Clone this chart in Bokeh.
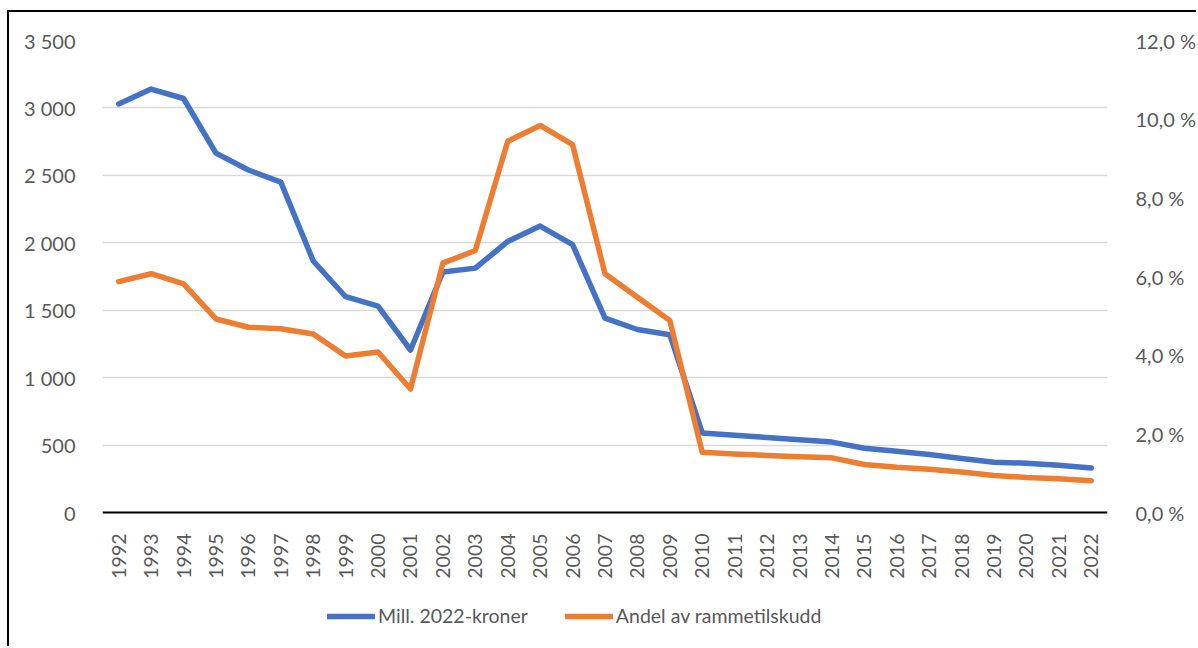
import math
from bokeh.plotting import figure
from bokeh.models import (Range1d, LinearAxis, CustomJSTickFormatter, FixedTicker,
                          Legend, LegendItem, ColumnDataSource, FactorRange)
from bokeh.embed import file_html
from bokeh.resources import INLINE

years = [str(y) for y in range(1992, 2023)]
mill_kroner = [3030, 3140, 3070, 2665, 2540, 2450, 1865, 1600, 1530, 1205,
               1783, 1812, 2010, 2124, 1986, 1442, 1357, 1318, 590, 573,
               556, 539, 522, 477, 455, 430, 400, 373, 366, 350, 330]
andel_pct = [5.87, 6.07, 5.81, 4.92, 4.71, 4.67, 4.54, 3.98, 4.08, 3.14,
             6.34, 6.66, 9.44, 9.84, 9.35, 6.07, 5.47, 4.88, 1.53, 1.49,
             1.45, 1.42, 1.39, 1.22, 1.15, 1.10, 1.03, 0.94, 0.89, 0.86, 0.81]
left_ticks = [0, 500, 1000, 1500, 2000, 2500, 3000, 3500]
right_ticks = [0, 2, 4, 6, 8, 10, 12]

FONT = "Lato"
TXT = "#595959"

# layout: frame top at 3500/12 %, value 0 sits 472 px lower, frame extends 136 px below 0
PX_DATA = 472
PX_BELOW = 136
left_min = -PX_BELOW / PX_DATA * 3500
right_min = -PX_BELOW / PX_DATA * 12

src = ColumnDataSource(dict(year=years, mill=mill_kroner, andel=andel_pct))

p = figure(width=1189, height=636, x_range=FactorRange(*years, range_padding=0),
           y_range=Range1d(left_min, 3500), output_backend="svg", toolbar_location=None,
           min_border_left=93, min_border_right=91, min_border_top=28,
           min_border_bottom=0,
           styles={"border-left": "2px solid black", "border-top": "2px solid black",
                   "margin-left": "7px", "margin-top": "10px"})
p.outline_line_color = None
p.extra_y_ranges = {"pct": Range1d(right_min, 12)}

r1 = p.line("year", "mill", source=src, line_color="#4472C4", line_width=5.5,
            line_cap="round", line_join="round")
r2 = p.line("year", "andel", source=src, y_range_name="pct", line_color="#ED7D31",
            line_width=5.5, line_cap="round", line_join="round")

# left axis
ya = p.yaxis[0]
ya.ticker = FixedTicker(ticks=left_ticks)
ya.formatter = CustomJSTickFormatter(code="""
  const s = Math.round(tick).toString();
  return s.replace(/\\B(?=(\\d{3})+(?!\\d))/g, " ");
""")
# right axis
ra = LinearAxis(y_range_name="pct", ticker=FixedTicker(ticks=right_ticks),
                formatter=CustomJSTickFormatter(code="return tick.toFixed(1).replace('.', ',') + ' %';"))
p.add_layout(ra, "right")

for ax in (ya, ra):
    ax.axis_line_color = None
    ax.major_tick_line_color = None
    ax.minor_tick_line_color = None
    ax.major_label_text_font = FONT
    ax.major_label_text_font_size = "20px"
    ax.major_label_text_color = TXT
ya.major_label_standoff = 21
ra.major_label_standoff = 22

xa = p.xaxis[0]
xa.fixed_location = 0
xa.axis_line_color = "black"
xa.axis_line_width = 2
xa.major_tick_line_color = None
xa.minor_tick_line_color = None
xa.major_label_orientation = math.pi / 2
xa.major_label_text_font = FONT
xa.major_label_text_font_size = "19.5px"
xa.major_label_text_color = TXT
xa.major_label_standoff = 15

p.xgrid.grid_line_color = None
p.ygrid.grid_line_color = "#D9D9D9"
p.ygrid.grid_line_width = 1.5
p.ygrid.ticker = FixedTicker(ticks=left_ticks)

legend = Legend(items=[LegendItem(label="Mill. 2022-kroner", renderers=[r1]),
                       LegendItem(label="Andel av rammetilskudd", renderers=[r2])],
                orientation="horizontal", location=(225, 21),
                border_line_color=None, background_fill_alpha=0,
                label_text_font=FONT, label_text_font_size="19.5px",
                label_text_color=TXT, glyph_width=48, glyph_height=20,
                spacing=37, padding=0, margin=0, label_standoff=3)
p.add_layout(legend)

open("out.html", "w").write(file_html(p, INLINE))
